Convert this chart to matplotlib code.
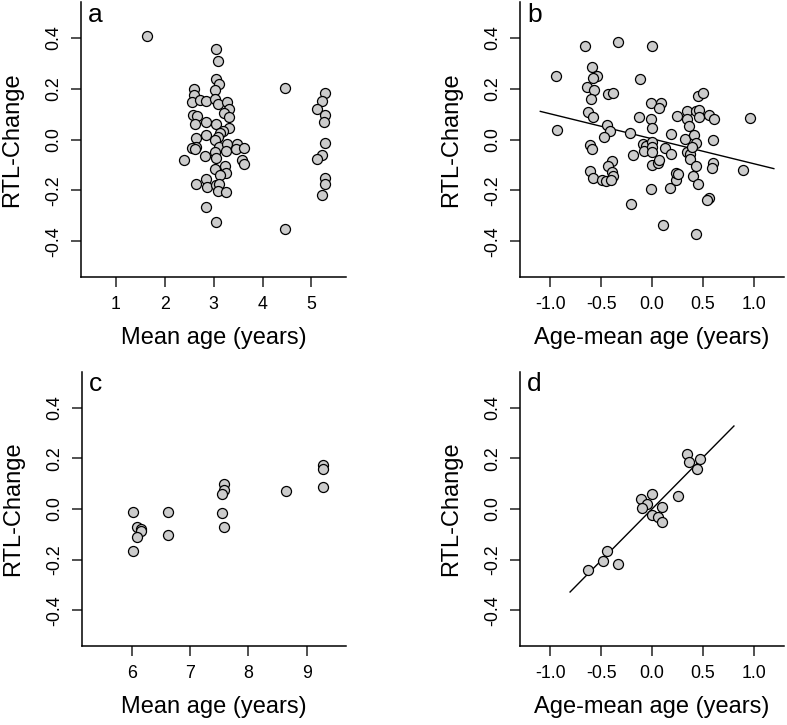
import numpy as np
import matplotlib
matplotlib.use("Agg")
import matplotlib.pyplot as plt

plt.rcParams["font.family"] = ["Liberation Sans", "DejaVu Sans"]

# panel a: mean age vs RTL change
a_age = [1.64, 3.05, 3.10, 3.05, 3.12, 3.03, 2.59, 2.59, 2.56, 2.73, 2.85, 3.03, 3.08, 3.27,
         3.31, 3.22, 3.31, 2.58, 2.67, 2.61, 2.85, 3.05, 3.31, 3.20, 3.14, 2.85, 3.08, 2.65,
         3.03, 2.65, 2.56, 2.62, 3.12, 3.27, 3.26, 3.48, 3.46, 3.63, 3.58, 3.63, 3.03, 3.05,
         2.83, 2.39, 3.03, 3.24, 3.26, 3.14, 2.84, 2.64, 2.86, 3.05, 3.12, 3.10, 3.26, 2.84,
         3.04, 4.46, 4.46, 5.27, 5.21, 5.12, 5.27, 5.25, 5.27, 5.21, 5.12, 5.27, 5.27, 5.21]
a_rtl = [0.410, 0.358, 0.310, 0.240, 0.220, 0.194, 0.200, 0.177, 0.148, 0.156, 0.153, 0.160,
         0.141, 0.148, 0.120, 0.104, 0.090, 0.096, 0.092, 0.062, 0.070, 0.062, 0.046, 0.033,
         0.025, 0.018, 0.012, 0.007, -0.001, -0.028, -0.032, -0.038, -0.028, -0.017, -0.044,
         -0.017, -0.038, -0.033, -0.080, -0.096, -0.049, -0.074, -0.066, -0.080, -0.114,
         -0.104, -0.133, -0.140, -0.154, -0.176, -0.186, -0.178, -0.173, -0.202, -0.207,
         -0.264, -0.323, 0.203, -0.352, 0.182, 0.154, 0.119, 0.096, 0.069, -0.012, -0.062,
         -0.077, -0.150, -0.173, -0.217]

# panel b: age - mean age vs RTL change
b_dev = [-0.947, -0.940, -0.655, -0.337, 0.000, -0.590, -0.544, -0.583, -0.639, -0.576,
         -0.600, -0.436, -0.380, -0.118, -0.632, -0.583, -0.445, -0.410, -0.468, -0.125,
         -0.216, -0.613, -0.590, -0.393, -0.436, -0.390, -0.380, -0.613, -0.583, -0.495,
         -0.455, -0.406, -0.190, -0.092, -0.062, -0.075, 0.003, 0.003, 0.000, 0.000, 0.056,
         0.066, -0.010, -0.206, 0.105, -0.010, 0.085, 0.072, -0.010, 0.000, 0.187, 0.128,
         0.187, 0.180, 0.233, 0.236, 0.252, 0.249, 0.340, 0.344, 0.367, 0.328, 0.347, 0.373,
         0.377, 0.400, 0.432, 0.465, 0.465, 0.449, 0.505, 0.413, 0.429, 0.396, 0.432, 0.449,
         0.432, 0.563, 0.613, 0.603, 0.603, 0.586, 0.560, 0.537, 0.897, 0.970]
b_rtl = [0.252, 0.037, 0.368, 0.385, 0.370, 0.285, 0.251, 0.244, 0.207, 0.197, 0.160, 0.180,
         0.182, 0.240, 0.108, 0.091, 0.059, 0.033, 0.011, 0.090, 0.028, -0.020, -0.036,
         -0.083, -0.102, -0.129, -0.143, -0.125, -0.152, -0.160, -0.161, -0.160, -0.059,
         -0.017, -0.024, -0.044, -0.009, -0.028, -0.049, -0.100, -0.090, -0.079, -0.193,
         -0.255, -0.335, 0.144, 0.144, 0.123, 0.080, 0.046, 0.022, -0.032, -0.057, -0.190,
         -0.160, -0.133, -0.136, 0.094, 0.112, 0.082, 0.053, 0.004, -0.048, -0.057, -0.078,
         -0.143, 0.114, 0.117, 0.090, 0.173, 0.185, 0.017, -0.012, -0.029, -0.102, -0.173,
         -0.372, 0.098, 0.082, 0.000, -0.092, -0.112, -0.231, -0.239, -0.121, 0.087]
b_fit = (-0.098, 0.0035)        # slope, intercept
b_fit_range = (-1.1, 1.2)

# panel c: mean age vs RTL change (older group)
c_age = [6.03, 6.086, 6.154, 6.166, 6.086, 6.03, 6.617, 6.617, 7.583, 7.577, 7.543, 7.543,
         7.583, 8.646, 9.269, 9.269, 9.269]
c_rtl = [-0.012, -0.071, -0.079, -0.088, -0.109, -0.164, -0.011, -0.101, 0.099, 0.075,
         0.059, -0.014, -0.070, 0.072, 0.175, 0.157, 0.087]

# panel d: age - mean age vs RTL change (older group)
d_dev = [-0.630, -0.479, -0.443, -0.338, -0.105, -0.052, -0.102, 0.000, 0.000, 0.056,
         0.095, 0.095, 0.256, 0.344, 0.367, 0.475, 0.439]
d_rtl = [-0.239, -0.204, -0.164, -0.216, 0.039, 0.018, 0.003, 0.058, -0.024, -0.030,
         0.007, -0.050, 0.051, 0.217, 0.186, 0.199, 0.157]
d_fit = (0.406, 0.0)
d_fit_range = (-0.807, 0.807)

W, H = 787, 725
fig = plt.figure(figsize=(W / 100, H / 100), dpi=100)


def make_ax(left, top, right, bottom):
    return fig.add_axes([left / W, 1 - bottom / H, (right - left) / W, (bottom - top) / H])


def style(ax, letter, xlim, xticks, xticklabels, xlabel):
    ax.set_xlim(*xlim)
    ax.set_ylim(-0.54, 0.54)
    ax.set_xticks(xticks)
    ax.set_xticklabels(xticklabels)
    ax.set_yticks([-0.4, -0.2, 0.0, 0.2, 0.4])
    ax.set_yticklabels(["-0.4", "-0.2", "0.0", "0.2", "0.4"], rotation=90, va="center")
    for s in ("top", "right"):
        ax.spines[s].set_visible(False)
    for s in ("left", "bottom"):
        ax.spines[s].set_linewidth(1.1)
    ax.tick_params(length=7.2, width=1.1, labelsize=12.8, color="#222222")
    ax.tick_params(axis="x", pad=6.5)
    ax.tick_params(axis="y", pad=6.5)
    ax.set_xlabel(xlabel, fontsize=17)
    ax.set_ylabel("RTL-Change", fontsize=17)
    ax.xaxis.set_label_coords(0.5, -0.183)
    ax.yaxis.set_label_coords(-0.219, 0.5)
    ax.text(0.027, 0.93, letter, transform=ax.transAxes, fontsize=19, va="baseline", ha="left")


def dots(ax, x, y):
    ax.scatter(x, y, s=52, facecolor="#cccccc", edgecolor="black", linewidths=0.9, zorder=3)


def fit_line(ax, coef, xr):
    xs = np.array(xr)
    ax.plot(xs, coef[0] * xs + coef[1], color="black", linewidth=1.0, zorder=2)


dev_ticks = [-1.0, -0.5, 0.0, 0.5, 1.0]
dev_labels = ["-1.0", "-0.5", "0.0", "0.5", "1.0"]

ax_a = make_ax(81, 2.5, 345.7, 276.8)
dots(ax_a, a_age, a_rtl)
style(ax_a, "a", (0.29, 5.70), [1, 2, 3, 4, 5], ["1", "2", "3", "4", "5"], "Mean age (years)")

ax_b = make_ax(520, 2.5, 784, 276.8)
fit_line(ax_b, b_fit, b_fit_range)
dots(ax_b, b_dev, b_rtl)
style(ax_b, "b", (-1.30, 1.30), dev_ticks, dev_labels, "Age-mean age (years)")

ax_c = make_ax(82, 372.2, 346, 645.8)
dots(ax_c, c_age, c_rtl)
style(ax_c, "c", (5.15, 9.67), [6, 7, 8, 9], ["6", "7", "8", "9"], "Mean age (years)")

ax_d = make_ax(520, 372.2, 784, 645.8)
fit_line(ax_d, d_fit, d_fit_range)
dots(ax_d, d_dev, d_rtl)
style(ax_d, "d", (-1.30, 1.30), dev_ticks, dev_labels, "Age-mean age (years)")

fig.savefig("out.png", dpi=100)
